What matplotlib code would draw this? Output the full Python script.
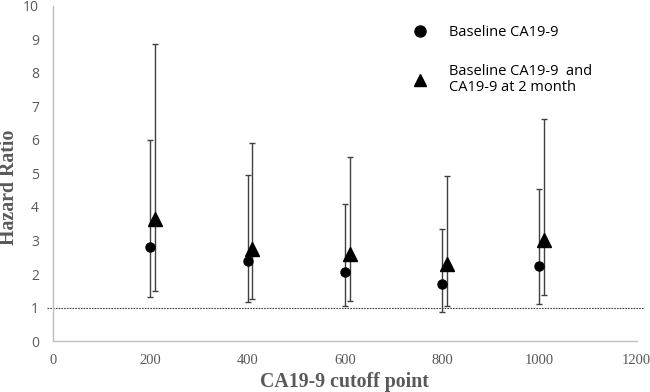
import numpy as np
import matplotlib
matplotlib.use("Agg")
import matplotlib.pyplot as plt
from matplotlib.lines import Line2D

# Data
cutoffs = [200, 400, 600, 800, 1000]
offset = 10  # second series is drawn slightly to the right

hr_base = [2.8, 2.4, 2.05, 1.7, 2.25]
lo_base = [1.3, 1.15, 1.05, 0.88, 1.12]
hi_base = [6.0, 4.95, 4.08, 3.35, 4.55]

hr_both = [3.65, 2.75, 2.6, 2.3, 3.0]
lo_both = [1.5, 1.25, 1.2, 1.05, 1.38]
hi_both = [8.85, 5.9, 5.5, 4.92, 6.63]

labels = ["Baseline CA19-9", "Baseline CA19-9  and\nCA19-9 at 2 month"]

gray = "#595959"

fig = plt.figure(figsize=(6.5, 3.92), dpi=100)
ax = fig.add_axes([0.0815, 0.130, 0.898, 0.855])

x1 = np.array(cutoffs)
x2 = x1 + offset
y1 = np.array(hr_base)
y2 = np.array(hr_both)
err1 = [y1 - np.array(lo_base), np.array(hi_base) - y1]
err2 = [y2 - np.array(lo_both), np.array(hi_both) - y2]

ax.errorbar(x1, y1, yerr=err1, fmt="o", color="black", ms=6.5,
            ecolor="#404040", elinewidth=1, capsize=2.5, capthick=1)
ax.errorbar(x2, y2, yerr=err2, fmt="^", color="black", ms=10.5,
            ecolor="#404040", elinewidth=1, capsize=2.5, capthick=1)

# reference line at HR = 1
ax.axhline(1, xmin=-0.01, xmax=1.01, color="#404040", lw=0.8, ls=(0, (1.5, 1)), clip_on=False, zorder=0)

ax.set_xlim(0, 1200)
ax.set_ylim(0, 10)
ax.set_xticks(np.arange(0, 1201, 200))
ax.set_yticks(np.arange(0, 11, 1))

for s in ["top", "right"]:
    ax.spines[s].set_visible(False)
for s in ["left", "bottom"]:
    ax.spines[s].set_color("#bfbfbf")
    ax.spines[s].set_linewidth(1)

ax.tick_params(axis="x", length=0, pad=9)
ax.tick_params(axis="y", length=0, pad=10)
for t in ax.get_xticklabels():
    t.set_fontfamily("Liberation Serif")
    t.set_fontsize(10.5)
    t.set_color(gray)
for t in ax.get_yticklabels():
    t.set_fontfamily("Open Sans")
    t.set_fontsize(10)
    t.set_color(gray)

ax.set_xlabel("CA19-9 cutoff point", fontfamily="Liberation Serif", fontweight="bold",
              fontsize=14.3, color=gray)
ax.xaxis.set_label_coords(0.5, -0.092)
ax.set_ylabel("Hazard Ratio", fontfamily="Liberation Serif", fontweight="bold",
              fontsize=14.3, color=gray)
ax.yaxis.set_label_coords(-0.059, 0.46)

handles = [Line2D([], [], ls="none", marker="o", color="black", ms=8),
           Line2D([], [], ls="none", marker="^", color="black", ms=9)]
leg = ax.legend(handles, labels, loc="upper left", bbox_to_anchor=(0.613, 0.942), frameon=False,
                prop={"family": "Open Sans", "size": 10.5}, labelspacing=1.65,
                handlelength=1.2, handletextpad=1.4, borderpad=0, borderaxespad=0)
for t in leg.get_texts():
    t.set_linespacing(1.05)

fig.savefig("out.png", dpi=100)
